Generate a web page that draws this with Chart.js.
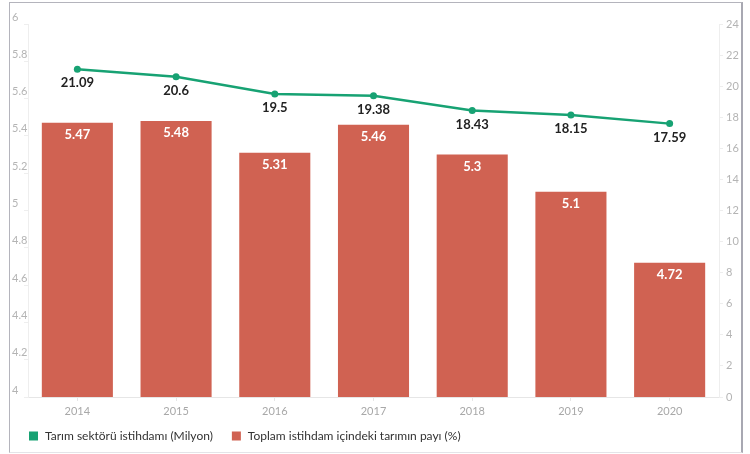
<!DOCTYPE html>
<html>
<head>
<meta charset="utf-8">
<script src="https://cdn.jsdelivr.net/npm/chart.js@4"></script>
<style>
  body { margin: 0; background: #fff; }
  #frame {
    position: absolute; left: 9px; top: 2px; width: 731px; height: 449px;
    border: 1px solid #b4b4bc; border-right: 2px solid #a8a8b2; border-bottom-color: #e4e4e8;
  }
  #chart { display: block; }
</style>
</head>
<body>
<div id="frame"><canvas id="chart" width="731" height="449"></canvas></div>
<script>
// Data
const years = ['2014', '2015', '2016', '2017', '2018', '2019', '2020'];
const employment = [21.09, 20.6, 19.5, 19.38, 18.43, 18.15, 17.59];   // milyon
const share = [5.47, 5.48, 5.31, 5.46, 5.3, 5.1, 4.72];              // %
const employmentLabel = 'Tarım sektörü istihdamı (Milyon)';
const shareLabel = 'Toplam istihdam içindeki tarımın payı (%)';

const green = '#17a273';
const red = '#d06252';
const font = 'Lato, "Noto Sans", sans-serif';

// Value labels over points and inside bars
const valueLabels = {
    id: 'valueLabels',
    afterDatasetsDraw(chart) {
        const ctx = chart.ctx;
        ctx.save();
        ctx.font = 'bold 13px ' + font;
        ctx.textAlign = 'center';
        ctx.textBaseline = 'middle';
        chart.data.datasets.forEach((ds, i) => {
            const meta = chart.getDatasetMeta(i);
            meta.data.forEach((el, j) => {
                if (ds.type === 'bar') {
                    ctx.fillStyle = '#ffffff';
                    ctx.fillText(ds.data[j], el.x, el.y + 12);
                } else {
                    ctx.fillStyle = '#222222';
                    ctx.fillText(ds.data[j], el.x, el.y + 14);
                }
            });
        });
        ctx.restore();
    }
};

// Simple legend at the bottom left (square swatches)
const bottomLegend = {
    id: 'bottomLegend',
    afterDraw(chart) {
        const ctx = chart.ctx;
        ctx.save();
        ctx.font = '12px ' + font;
        ctx.textBaseline = 'middle';
        let x = 19;
        const y = 433;
        chart.data.datasets.forEach(ds => {
            ctx.fillStyle = ds.backgroundColor;
            ctx.fillRect(x, y - 4.5, 9, 9);
            ctx.fillStyle = '#333333';
            ctx.fillText(ds.label, x + 16, y);
            x += 16 + ctx.measureText(ds.label).width + 19;
        });
        ctx.restore();
    }
};

new Chart(document.getElementById('chart'), {
    data: {
        labels: years,
        datasets: [{
            type: 'line',
            label: employmentLabel,
            data: employment,
            yAxisID: 'yRight',
            borderColor: green,
            backgroundColor: green,
            borderWidth: 2.5,
            pointRadius: 3.5,
            pointBackgroundColor: green,
            pointBorderWidth: 0,
            tension: 0,
            order: 0,
        }, {
            type: 'bar',
            label: shareLabel,
            data: share,
            yAxisID: 'yLeft',
            backgroundColor: red,
            barPercentage: 0.72,
            categoryPercentage: 1,
            order: 1,
        }],
    },
    options: {
        responsive: false,
        animation: false,
        layout: { padding: { top: 21, left: 2, right: 0, bottom: 33 } },
        plugins: {
            tooltip: { enabled: false },
            legend: { display: false },
        },
        scales: {
            x: {
                grid: { offset: false, drawOnChartArea: false, tickLength: 4, color: '#e6e6e6' },
                border: { color: '#e6e6e6' },
                ticks: { color: '#a8a8a8', font: { family: font, size: 11 }, padding: 4 },
                afterFit(s) { s.height = 22; },
            },
            yLeft: {
                position: 'left',
                min: 4, max: 6,
                grid: { drawOnChartArea: false, tickLength: 4, color: '#eeeeee' },
                border: { color: '#eeeeee' },
                ticks: {
                    stepSize: 0.2, color: '#b4b4b4', crossAlign: 'far', labelOffset: -7,
                    font: { family: font, size: 11 }, padding: 2,
                    callback: v => Math.round(v * 10) / 10,
                },
                afterFit(s) { s.width = 16; },
            },
            yRight: {
                position: 'right',
                min: 0, max: 24,
                grid: { drawOnChartArea: false, tickLength: 4, color: '#eeeeee' },
                border: { color: '#eeeeee' },
                ticks: { stepSize: 2, color: '#b4b4b4', font: { family: font, size: 11 }, padding: 3 },
                afterFit(s) { s.width = 22; },
            },
        },
    },
    plugins: [valueLabels, bottomLegend],
});
</script>
</body>
</html>
